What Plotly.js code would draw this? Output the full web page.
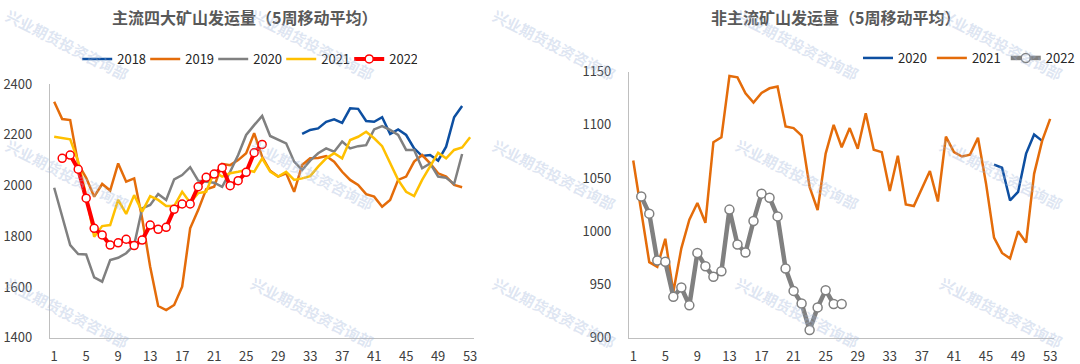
<!DOCTYPE html>
<html>
<head>
<meta charset="utf-8">
<script src="https://cdn.plot.ly/plotly-3.0.1.min.js"></script>
<style>html,body{margin:0;padding:0;background:#fff;}#chart{width:1080px;height:364px;}</style>
</head>
<body>
<div id="chart"></div>
<script>
// ---- Data ----
const WEEKS = [1,2,3,4,5,6,7,8,9,10,11,12,13,14,15,16,17,18,19,20,21,22,23,24,25,26,27,28,29,30,31,32,33,34,35,36,37,38,39,40,41,42,43,44,45,46,47,48,49,50,51,52,53];
const X_TICKS = [1,5,9,13,17,21,25,29,33,37,41,45,49,53];

const LEFT_TITLE = "主流四大矿山发运量（5周移动平均）";
const RIGHT_TITLE = "非主流矿山发运量（5周移动平均）";
const WATERMARK = "兴业期货投资咨询部";

// Mainstream four major mines shipments (5-week moving average)
const MAIN_2018 = [null,null,null,null,null,null,null,null,null,null, null,null,null,null,null,null,null,null,null,null, null,null,null,null,null,null,null,null,null,null, null,2203,2219,2225,2251,2261,2247,2304,2302,2254, 2251,2269,2203,2221,2199,2146,2116,2120,2098,2153, 2269,2313,null];
const MAIN_2019 = [2330,2262,2258,2085,2030,1956,2006,1980,2087,2015, 2028,1870,1680,1525,1509,1529,1601,1831,1903,1985, 1995,2085,2080,2100,2127,2206,2113,2058,2035,2048, 1975,2081,2107,2108,2116,2094,2054,2022,2002,1966, 1956,1916,1943,2022,2035,2094,2120,2087,2048,2035, 2002,1993,null];
const MAIN_2020 = [1991,1877,1765,1730,1728,1638,1621,1706,1715,1733, 1765,1910,1923,1966,1943,2024,2041,2072,2019,2015, 2011,1995,2054,2120,2199,2238,2274,2195,2179,2166, 2094,2061,2098,2127,2146,2133,2173,2146,2155,2159, 2221,2234,2219,2199,2140,2140,2068,2087,2035,2030, 2006,2124,null];
const MAIN_2021 = [2192,2186,2182,2095,1960,1798,1840,1844,1943,1888, 1962,1897,1958,1943,1919,1919,1975,1932,1970,1975, 2054,2035,2048,2054,2061,2054,2107,2055,2035,2054, 2022,2028,2037,2074,2107,2127,2107,2179,2192,2212, 2186,2155,2087,2022,1975,1958,2022,2077,2129,2107, 2140,2150,2190];
const MAIN_2022 = [null,2107,2120,2064,1950,1831,1805,1765,1774,1788, 1763,1785,1844,1827,1835,1906,1927,1927,1995,2032, 2045,2070,1999,2019,2052,2129,2162];

// Non-mainstream mines shipments (5-week moving average)
const OTHER_2020 = [null,null,null,null,null,null,null,null,null,null, null,null,null,null,null,null,null,null,null,null, null,null,null,null,null,null,null,null,null,null, null,null,null,null,null,null,null,null,null,null, null,null,null,null,null,1062.6,1059.7,1029,1037,1073, 1091,1085,null];
const OTHER_2021 = [1066.6,1020,971,966.6,993,943,984,1011,1026.6,1008, 1083.8,1088.4,1146,1144.7,1129.7,1121,1130,1134.4,1136,1098.5, 1097,1090,1041.6,1020,1073,1100,1079,1097,1077.5,1111, 1076.6,1074.4,1037.8,1071,1025.3,1023.8,1040.6,1056.6,1028,1089, 1074.4,1070.3,1072,1088,1045,994,979.7,974.4,1000,989.4, 1054,1085,1105.7];
const OTHER_2022 = [null,1032.8,1016.6,972.5,971.3,938.4,947.2,930.4,979.7,967.2, 957.2,962.5,1020.4,987.6,980,1009.7,1035.4,1031.6,1014,965, 944,932.2,907.2,928.5,944.7,931.6,931.6];

// ---- Styles ----
const W = 1080, H = 364;
const FONT = '"Noto Sans CJK SC", "Noto Sans", sans-serif';
const C_BLUE = '#0D4FA1', C_ORANGE = '#E46C0A', C_GRAY = '#808080', C_YELLOW = '#FFC000', C_RED = '#FF0000';
const px = v => v / W;
const py = v => 1 - v / H;

function line(name, y, color, width, xa, ya, lg) {
  return {type: 'scatter', mode: 'lines', name: name, x: WEEKS, y: y,
    line: {color: color, width: width}, xaxis: xa, yaxis: ya, legend: lg, connectgaps: false};
}
function lineMarkers(name, y, color, width, msize, xa, ya, lg) {
  return {type: 'scatter', mode: 'lines+markers', name: name, x: WEEKS, y: y,
    line: {color: color, width: width},
    marker: {symbol: 'circle', size: msize, color: '#FFFFFF', line: {color: color, width: 1.5}},
    xaxis: xa, yaxis: ya, legend: lg};
}

const traces = [
  line('2018', MAIN_2018, C_BLUE, 2.5, 'x', 'y', 'legend'),
  line('2019', MAIN_2019, C_ORANGE, 2.5, 'x', 'y', 'legend'),
  line('2020', MAIN_2020, C_GRAY, 2.5, 'x', 'y', 'legend'),
  line('2021', MAIN_2021, C_YELLOW, 2.5, 'x', 'y', 'legend'),
  lineMarkers('2022', MAIN_2022, C_RED, 4, 8, 'x', 'y', 'legend'),
  line('2020', OTHER_2020, C_BLUE, 2.5, 'x2', 'y2', 'legend2'),
  line('2021', OTHER_2021, C_ORANGE, 2.5, 'x2', 'y2', 'legend2'),
  lineMarkers('2022', OTHER_2022, C_GRAY, 4.5, 9, 'x2', 'y2', 'legend2')
];

const tickFont = {family: FONT, size: 13, color: '#404040'};
function xAxis(domain, anchor) {
  return {domain: domain, anchor: anchor, range: [0.5, 53.5], tickmode: 'array', tickvals: X_TICKS,
    ticktext: X_TICKS.map(String), showline: true, linecolor: '#BFBFBF', linewidth: 1.3, showgrid: false,
    zeroline: false, ticks: '', ticklabelstandoff: 6, tickfont: tickFont, fixedrange: true};
}
function yAxis(domain, anchor, range, dtick) {
  return {domain: domain, anchor: anchor, range: range, dtick: dtick, tick0: range[0], showline: true,
    linecolor: '#BFBFBF', linewidth: 1.3, showgrid: false, zeroline: false, ticks: '',
    ticklabelstandoff: 14, tickfont: tickFont, fixedrange: true};
}

const annotations = [
  {text: LEFT_TITLE, x: px(247), y: py(17), xref: 'paper', yref: 'paper', showarrow: false,
   xanchor: 'center', yanchor: 'middle', font: {family: FONT, size: 16, color: '#595959', weight: 'bold'}},
  {text: RIGHT_TITLE, x: px(844), y: py(17), xref: 'paper', yref: 'paper', showarrow: false,
   xanchor: 'center', yanchor: 'middle', font: {family: FONT, size: 16, color: '#595959', weight: 'bold'}}
];
const WM_X = [68, 316, 560, 806, 1012];
const WM_Y = [44, 174, 312];
WM_Y.forEach(yy => WM_X.forEach(xx => {
  annotations.push({text: WATERMARK, x: px(xx), y: py(yy), xref: 'paper', yref: 'paper', showarrow: false,
    xanchor: 'center', yanchor: 'middle', textangle: 27,
    font: {family: FONT, size: 15, color: 'rgba(160,182,218,0.35)', weight: 'bold'}});
}));

const legendFont = {family: FONT, size: 13, color: '#262626'};
const layout = {
  width: W, height: H, margin: {l: 0, r: 0, t: 0, b: 0},
  paper_bgcolor: '#FFFFFF', plot_bgcolor: '#FFFFFF',
  showlegend: true, hovermode: false,
  xaxis: xAxis([px(50.7), px(479)], 'y'),
  yaxis: yAxis([1 - 337.7 / H, 1 - 84 / H], 'x', [1400, 2400], 200),
  xaxis2: xAxis([px(635.7), px(1065)], 'y2'),
  yaxis2: yAxis([1 - 337.7 / H, 1 - 71.7 / H], 'x2', [900, 1150], 50),
  legend: {orientation: 'h', x: px(78), xanchor: 'left', y: py(59), yanchor: 'middle',
    font: legendFont, bgcolor: 'rgba(0,0,0,0)', traceorder: 'normal', itemwidth: 30,
    entrywidth: 23, entrywidthmode: 'pixels'},
  legend2: {orientation: 'h', x: px(867), xanchor: 'left', y: py(58), yanchor: 'middle',
    font: legendFont, bgcolor: 'rgba(0,0,0,0)', traceorder: 'normal', itemwidth: 30},
  annotations: annotations
};

Plotly.newPlot('chart', traces, layout, {staticPlot: true, displayModeBar: false});
</script>
</body>
</html>
